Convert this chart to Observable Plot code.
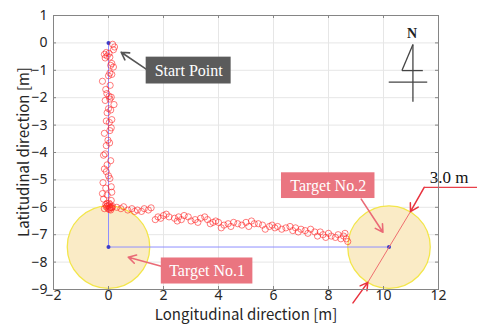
<!DOCTYPE html>
<html><head><meta charset="utf-8">
<script src="https://cdn.jsdelivr.net/npm/d3@7"></script>
<script src="https://cdn.jsdelivr.net/npm/@observablehq/plot@0.6"></script>
<style>body{margin:0;background:#fff}#chart svg{display:block}</style>
</head><body><div id="chart"></div>
<script>
// ---- data ----
const xTicks = [-2, 0, 2, 4, 6, 8, 10, 12];
const xTickLabels = ["−2", "0", "2", "4", "6", "8", "10", "12"];
const yTicks = [-9, -8, -7, -6, -5, -4, -3, -2, -1, 0, 1];
const yTickLabels = ["−9", "−8", "−7", "−6", "−5", "−4", "−3", "−2", "−1", "0", "1"];
const xLabel = "Longitudinal direction [m]";
const yLabel = "Latitudinal direction [m]";

// planned route (blue)
const routeLon = [0, 0, 10.2];
const routeLat = [0, -7.45, -7.45];

// targets (yellow circles, diameter 3.0 m)
const targetLon = [0, 10.2];
const targetLat = [-7.45, -7.45];
const targetDiameter = [3.0, 3.0];

// measured walking trajectory (red circles)
const walkLon = [0.15,0.22,0.18,-0.08,-0.15,-0.05,0.02,-0.12,0.05,0.12,0.08,0.18,-0.22,0.05,0.12,0.0,0.06,-0.1,-0.06,0.02,
  0.1,-0.12,0.05,0.2,0.0,-0.05,0.08,0.12,0.03,-0.08,-0.15,0.05,0.1,-0.02,0.04,-0.08,-0.18,-0.12,0.08,-0.05,
  -0.15,-0.08,0.0,0.05,-0.2,-0.1,0.1,0.12,-0.05,-0.22,-0.18,0.1,0.02,-0.1,-0.05,0.05,0.12,-0.15,-0.08,0.03,
  0.05,-0.02,0.1,0.0,0.08,-0.05,0.15,0.05,
  0.3,0.45,0.55,0.7,0.85,0.95,1.05,1.2,1.3,1.45,1.55,1.7,1.8,1.9,2.0,2.1,2.2,2.4,2.5,2.55,
  2.65,2.75,2.9,3.0,3.15,3.25,3.35,3.5,3.6,3.7,3.8,3.9,4.0,4.1,4.2,4.35,4.45,4.55,4.7,4.85,
  5.0,5.1,5.2,5.3,5.45,5.6,5.7,5.85,5.95,6.05,6.15,6.3,6.45,6.6,6.7,6.8,6.9,7.0,7.15,7.25,
  7.35,7.5,7.6,7.7,7.8,7.9,8.0,8.1,8.25,8.35,8.45,8.55,8.65,8.7,8.6];
const walkLat = [-0.05,-0.15,-0.25,-0.35,-0.42,-0.48,-0.38,-0.55,-0.52,-0.75,-0.82,-0.88,-1.4,-1.1,-1.15,-1.2,-1.55,-1.7,-1.85,-1.95,
  -1.98,-2.1,-2.05,-2.25,-2.4,-2.55,-2.45,-2.8,-2.9,-2.85,-3.3,-3.2,-3.1,-3.55,-3.65,-3.75,-4.1,-4.05,-4.3,-4.45,
  -4.6,-4.7,-4.85,-4.95,-5.1,-5.3,-5.25,-5.45,-5.55,-5.5,-5.7,-5.75,-5.85,-5.9,-5.95,-6.0,-6.02,-6.05,-5.98,-6.08,
  -5.9,-6.05,-6.0,-5.95,-6.1,-5.85,-5.97,-6.03,
  -6.0,-6.05,-5.98,-6.1,-6.05,-6.15,-6.1,-6.15,-6.05,-6.1,-6.02,-6.45,-6.35,-6.4,-6.3,-6.25,-6.35,-6.4,-6.5,-6.35,
  -6.45,-6.3,-6.35,-6.5,-6.45,-6.55,-6.4,-6.35,-6.45,-6.6,-6.55,-6.5,-6.55,-6.75,-6.65,-6.6,-6.7,-6.55,-6.6,-6.65,
  -6.55,-6.7,-6.5,-6.6,-6.6,-6.65,-6.8,-6.7,-6.65,-6.75,-6.7,-6.8,-6.75,-6.7,-6.85,-6.75,-6.9,-6.8,-6.85,-6.95,
  -6.8,-6.9,-7.05,-6.9,-7.0,-7.1,-6.95,-7.05,-7.1,-7.0,-7.15,-7.05,-7.15,-7.25,-6.95];

// annotation labels
const labelTexts = ["Start Point", "Target No.1", "Target No.2"];
const labelColors = ["#5b5b5b", "#ea7580", "#ea7580"];
const labelBoxX1 = [1.37, 1.92, 6.29];
const labelBoxX2 = [4.46, 5.25, 9.69];
const labelBoxY1 = [-1.5, -8.8, -5.68];
const labelBoxY2 = [-0.52, -7.85, -4.74];
const labelArrowFrom = [[1.37, -0.96], [1.92, -8.15], [9.19, -5.70]];
const labelArrowTo = [[0.46, -0.34], [0.72, -7.82], [9.98, -6.91]];
const labelArrowColors = ["#555555", "#ea6a76", "#ea6a76"];

// 3.0 m dimension marker
const dimText = "3.0 m";
const dimTextPos = [12.39, -4.9];
const dimLineEnds = [[10.98, -6.16], [9.43, -8.74]];
const dimUnderline = [[11.48, -5.27], [13.44, -5.27]];
const dimArrowFrom = [[11.48, -5.27], [8.89, -9.49]];
const dimArrowTo = [[10.98, -6.16], [9.43, -8.74]];

// north symbol
const northText = "N";
const northTextPos = [11.04, 0.34];
const northSegFrom = [[11.07, -0.06], [11.07, -0.06], [10.67, -1.01], [10.19, -1.43]];
const northSegTo = [[11.07, -2.15], [10.67, -1.01], [11.43, -1.01], [11.59, -1.43]];

// ---- build ----
const W = 477, H = 329, ML = 53, MR = 39, MT = 15, MB = 40;
const route = routeLon.map((x, i) => ({x, y: routeLat[i]}));
const targets = targetLon.map((x, i) => ({x, y: targetLat[i], d: targetDiameter[i]}));
const walk = walkLon.map((x, i) => ({x, y: walkLat[i]}));
const labels = labelTexts.map((t, i) => ({t, c: labelColors[i], x1: labelBoxX1[i], x2: labelBoxX2[i], y1: labelBoxY1[i], y2: labelBoxY2[i],
  ax1: labelArrowFrom[i][0], ay1: labelArrowFrom[i][1], ax2: labelArrowTo[i][0], ay2: labelArrowTo[i][1], ac: labelArrowColors[i]}));
const dimArrows = dimArrowFrom.map((p, i) => ({x1: p[0], y1: p[1], x2: dimArrowTo[i][0], y2: dimArrowTo[i][1]}));
const northSegs = northSegFrom.map((p, i) => ({x1: p[0], y1: p[1], x2: northSegTo[i][0], y2: northSegTo[i][1]}));
const xDom = [-2, 12], yDom = [-9, 1];
const tickLenX = 3 / ((H - MT - MB) / (yDom[1] - yDom[0]));
const tickLenY = 3 / ((W - ML - MR) / (xDom[1] - xDom[0]));
const sansFont = "'Noto Sans CJK JP', 'Noto Sans', sans-serif";
const tickFont = "'Noto Sans', 'DejaVu Sans', sans-serif";
const serifFont = "'Liberation Serif', 'DejaVu Serif', serif";

const chart = Plot.plot({
  width: W, height: H,
  marginLeft: ML, marginRight: MR, marginTop: MT, marginBottom: MB,
  style: {fontFamily: sansFont, background: "#fff", overflow: "visible"},
  x: {domain: xDom, ticks: xTicks},
  y: {domain: yDom, ticks: yTicks},
  r: {type: "linear", domain: [0, xDom[1] - xDom[0]], range: [0, W - ML - MR]},
  marks: [
    Plot.gridX(xTicks, {stroke: "#e6e6e6", strokeOpacity: 1}),
    Plot.gridY(yTicks, {stroke: "#e6e6e6", strokeOpacity: 1}),
    Plot.dot(targets, {x: "x", y: "y", r: d => d.d / 2, fill: "#faebc6", stroke: "#f3e64a", strokeWidth: 1.3}),
    Plot.line(route, {x: "x", y: "y", stroke: "#8f8fff", strokeWidth: 1}),
    Plot.dot(route, {x: "x", y: "y", r: 2, fill: "#3c3cc8"}),
    Plot.dot(walk, {x: "x", y: "y", r: 3.1, stroke: "#ff2020", strokeOpacity: 0.65, strokeWidth: 0.9, fill: "none"}),
    Plot.link([0], {x1: dimLineEnds[0][0], y1: dimLineEnds[0][1], x2: dimLineEnds[1][0], y2: dimLineEnds[1][1], stroke: "#ef6f6f", strokeWidth: 1}),
    Plot.link([0], {x1: dimUnderline[0][0], y1: dimUnderline[0][1], x2: dimUnderline[1][0], y2: dimUnderline[1][1], stroke: "#e8404a", strokeWidth: 1.2}),
    Plot.arrow(dimArrows, {x1: "x1", y1: "y1", x2: "x2", y2: "y2", stroke: "#e8323e", strokeWidth: 1.5, headLength: 9}),
    Plot.text([dimText], {x: dimTextPos[0], y: dimTextPos[1], text: d => d, fontFamily: serifFont, fontSize: 17, fill: "#111"}),
    Plot.arrow(labels, {x1: "ax1", y1: "ay1", x2: "ax2", y2: "ay2", stroke: "ac", strokeWidth: 1.6, headLength: 8}),
    Plot.rect(labels, {x1: "x1", x2: "x2", y1: "y1", y2: "y2", fill: "c"}),
    Plot.text(labels, {x: d => (d.x1 + d.x2) / 2, y: d => (d.y1 + d.y2) / 2, text: "t", fill: "#fff", fontFamily: serifFont, fontSize: 16}),
    Plot.link(northSegs, {x1: "x1", y1: "y1", x2: "x2", y2: "y2", stroke: "#444", strokeWidth: 1.3}),
    Plot.text([northText], {x: northTextPos[0], y: northTextPos[1], text: d => d, fontFamily: serifFont, fontWeight: "bold", fontSize: 14, fill: "#222"}),
    Plot.frame({stroke: "#858585"}),
    Plot.ruleX(xTicks, {y1: yDom[0], y2: yDom[0] + tickLenX, stroke: "#858585"}),
    Plot.ruleX(xTicks, {y1: yDom[1], y2: yDom[1] - tickLenX, stroke: "#858585"}),
    Plot.ruleY(yTicks, {x1: xDom[0], x2: xDom[0] + tickLenY, stroke: "#858585"}),
    Plot.ruleY(yTicks, {x1: xDom[1], x2: xDom[1] - tickLenY, stroke: "#858585"}),
    Plot.axisX(xTicks, {tickSize: 0, tickPadding: 1, fontSize: 14, fontFamily: tickFont, fill: "#262626", label: null,
      tickFormat: d => xTickLabels[xTicks.indexOf(d)]}),
    Plot.axisY(yTicks, {tickSize: 0, tickPadding: 6, fontSize: 14, fontFamily: tickFont, fill: "#262626", label: null,
      tickFormat: d => yTickLabels[yTicks.indexOf(d)]}),
    Plot.text([xLabel], {frameAnchor: "bottom", dy: 30, text: d => d, fontSize: 15, fill: "#262626"})
  ]
});
// y-axis title: rotated text centred on the frame's vertical middle
d3.select(chart).append("text")
  .attr("transform", `translate(22,${(MT + H - MB) / 2}) rotate(-90)`)
  .attr("text-anchor", "middle")
  .attr("dominant-baseline", "central")
  .attr("font-family", sansFont)
  .attr("font-size", 15)
  .attr("fill", "#262626")
  .text(yLabel);
document.getElementById("chart").appendChild(chart);
</script>
</body></html>
